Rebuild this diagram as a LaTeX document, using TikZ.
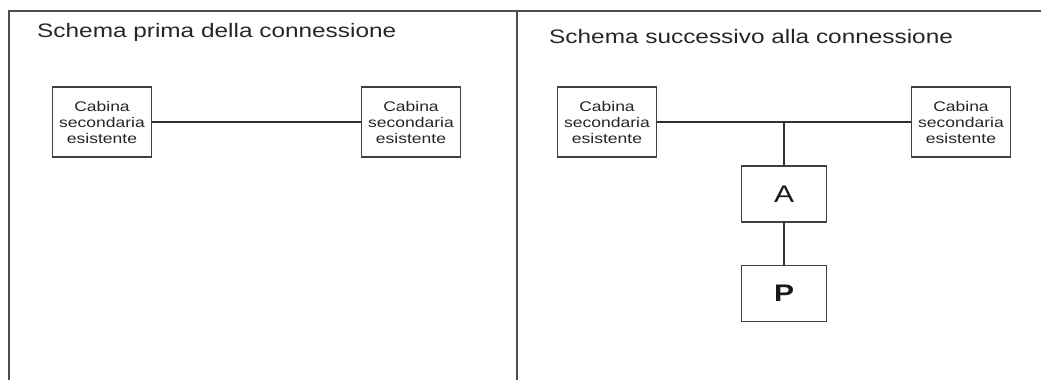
\documentclass[tikz,border=0pt]{standalone}
\usepackage{fontspec}
\setmainfont{Liberation Sans}[FakeStretch=1.25]
\usetikzlibrary{positioning}

\begin{document}
\begin{tikzpicture}[x=1pt, y=-1pt,
    cornice/.style={draw=black!70, line width=1.2pt},
    cabina/.style={draw=black!75, line width=1.4pt, fill=white, minimum width=99pt, minimum height=70pt, inner sep=0pt, align=center, text=black!85, font=\fontsize{14}{16}\selectfont},
    blocco/.style={draw=black!75, line width=1.4pt, fill=white, minimum width=85pt, minimum height=56pt, inner sep=0pt, text=black!90, font=\fontsize{24}{26}\selectfont},
    titolo/.style={anchor=base west, inner sep=0pt, text=black!85, font=\fontsize{19.5}{22}\selectfont},
    filo/.style={draw=black!80, line width=1.3pt}]
    \useasboundingbox (0,0) rectangle (1041,380);  % Fixes the page size
    \draw[cornice] (9,380) -- (9,11) -- (1041,11);  % Draws the outer frame
    \draw[cornice] (517,11) -- (517,380);  % Draws the divider

    % Before the connection
    \node[titolo] (t1) at (37,37) {Schema prima della connessione};
    \node[cabina] (c1) at (102,122) {Cabina\\secondaria\\esistente};
    \node[cabina] (c2) at (411,122) {Cabina\\secondaria\\esistente};
    \draw[filo] (c1) -- (c2);

    % After the connection
    \node[titolo] (t2) at (549,43) {Schema successivo alla connessione};
    \node[cabina] (c3) at (607,122) {Cabina\\secondaria\\esistente};
    \node[cabina] (c4) at (961,122) {Cabina\\secondaria\\esistente};
    \node[blocco] (A) at (784,194) {A};
    \node[blocco, below=42pt of A] (P) {\bfseries P};
    \draw[filo] (c3) -- (c4);  % Draws the line between the cabins
    \draw[filo] (A.north) -- (A.north |- c3.east);  % Connects A to the line
    \draw[filo] (A) -- (P);  % Connects A to P
\end{tikzpicture}
\end{document}
